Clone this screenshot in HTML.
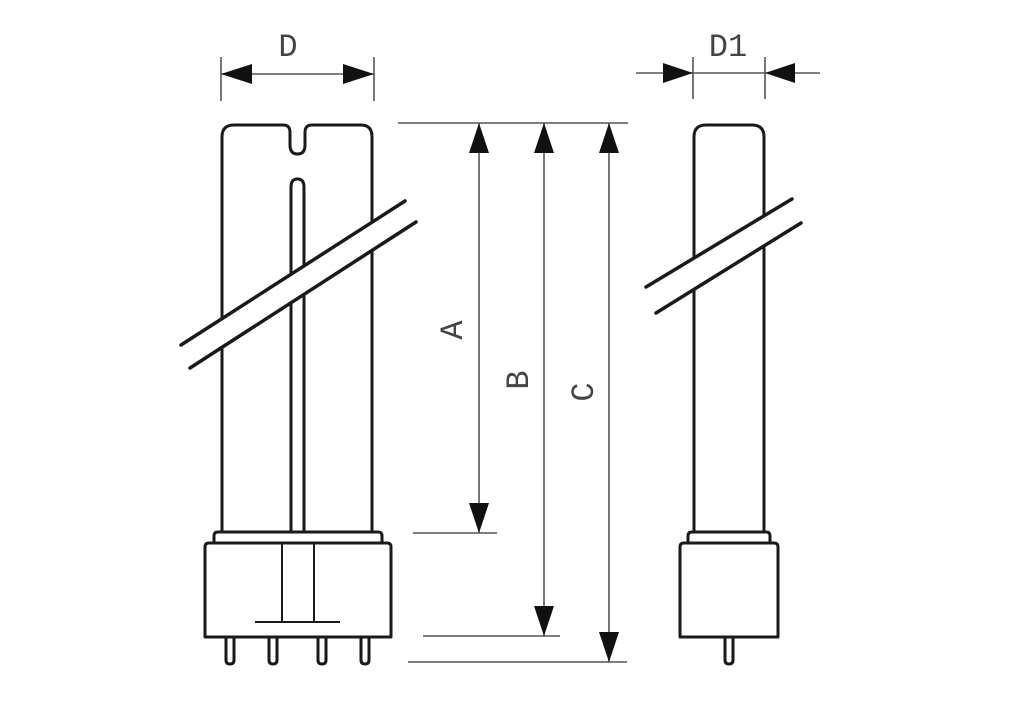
<!DOCTYPE html>
<html><head><meta charset="utf-8"><style>html,body{margin:0;padding:0;background:#fff}svg{display:block}</style></head>
<body>
<svg width="1024" height="702" viewBox="0 0 1024 702" xmlns="http://www.w3.org/2000/svg">
<g fill="none" stroke="#1a1a1a" stroke-width="3" stroke-linejoin="round">
<!-- Left lamp tube -->
<path d="M222,532 L222,137 Q222,125 234,125 L283,125 Q290,125 290,132 L290,145 Q290,154 297.5,154 Q305,154 305,145 L305,132 Q305,125 312,125 L361,125 Q372,125 372,137 L372,532"/>
<path d="M291,532 L291,187 Q291,179 297.5,179 Q304,179 304,187 L304,532"/>
<!-- collar and base -->
<path d="M214,543 L214,536 Q214,532 218,532 L378,532 Q382,532 382,536 L382,543"/>
<path d="M205,637 L205,547 Q205,543 209,543 L387,543 Q391,543 391,547 L391,637 Z"/>
<!-- pins -->
<path d="M226,637 L226,660 Q226,664 230,664 Q234,664 234,660 L234,637"/>
<path d="M269,637 L269,660 Q269,664 273,664 Q277,664 277,660 L277,637"/>
<path d="M318,637 L318,660 Q318,664 322,664 Q326,664 326,660 L326,637"/>
<path d="M361,637 L361,660 Q361,664 365,664 Q369,664 369,660 L369,637"/>
<!-- Right lamp -->
<path d="M694,532 L694,137 Q694,125 706,125 L752,125 Q764,125 764,137 L764,532"/>
<path d="M688,543 L688,536 Q688,532 692,532 L766,532 Q770,532 770,536 L770,543"/>
<path d="M680,637 L680,547 Q680,543 684,543 L774,543 Q778,543 778,547 L778,637 Z"/>
<path d="M725,637 L725,660 Q725,664 729,664 Q733,664 733,660 L733,637"/>
</g>
<g stroke="#1a1a1a" stroke-width="2" fill="none">
<line x1="282" y1="543" x2="282" y2="622"/>
<line x1="314" y1="543" x2="314" y2="622"/>
<line x1="255" y1="622" x2="340" y2="622"/>
</g>
<!-- break bands -->
<polygon points="180,345 405,200 416,222 189,368" fill="#fff"/>
<polygon points="645,287 792,199 801,223 656,313" fill="#fff"/>
<g stroke="#1a1a1a" stroke-width="3.5" stroke-linecap="round">
<line x1="181" y1="345" x2="405" y2="201"/>
<line x1="190" y1="368" x2="416" y2="222"/>
<line x1="646" y1="287" x2="792" y2="199"/>
<line x1="656" y1="313" x2="801" y2="223"/>
</g>
<!-- dimension lines -->
<g stroke="#555" stroke-width="1.6" fill="none">
<line x1="221" y1="57" x2="221" y2="101"/>
<line x1="374" y1="57" x2="374" y2="101"/>
<line x1="221" y1="74" x2="374" y2="74"/>
<line x1="693" y1="57" x2="693" y2="99"/>
<line x1="765" y1="57" x2="765" y2="99"/>
<line x1="636" y1="73" x2="820" y2="73"/>
<line x1="398" y1="123" x2="628" y2="123"/>
<line x1="413" y1="533" x2="497" y2="533"/>
<line x1="423" y1="636" x2="560" y2="636"/>
<line x1="408" y1="662" x2="627" y2="662"/>
<line x1="479" y1="123" x2="479" y2="533"/>
<line x1="544" y1="123" x2="544" y2="636"/>
<line x1="609" y1="123" x2="609" y2="662"/>
</g>
<g fill="#111">
<polygon points="221,74 252,64 252,84"/>
<polygon points="374,74 343,64 343,84"/>
<polygon points="693,73 663,63 663,83"/>
<polygon points="765,73 795,63 795,83"/>
<polygon points="479,123 469,153 489,153"/>
<polygon points="544,123 534,153 554,153"/>
<polygon points="609,123 599,153 619,153"/>
<polygon points="479,533 469,503 489,503"/>
<polygon points="544,636 534,606 554,606"/>
<polygon points="609,662 599,632 619,632"/>
</g>
<g font-family="Liberation Mono, monospace" font-size="32" fill="#444" text-anchor="middle">
<text x="288" y="56">D</text>
<text x="728" y="56">D1</text>
<text transform="translate(462,330) rotate(-90)">A</text>
<text transform="translate(528,380) rotate(-90)">B</text>
<text transform="translate(593,392) rotate(-90)">C</text>
</g>
</svg>
</body></html>
